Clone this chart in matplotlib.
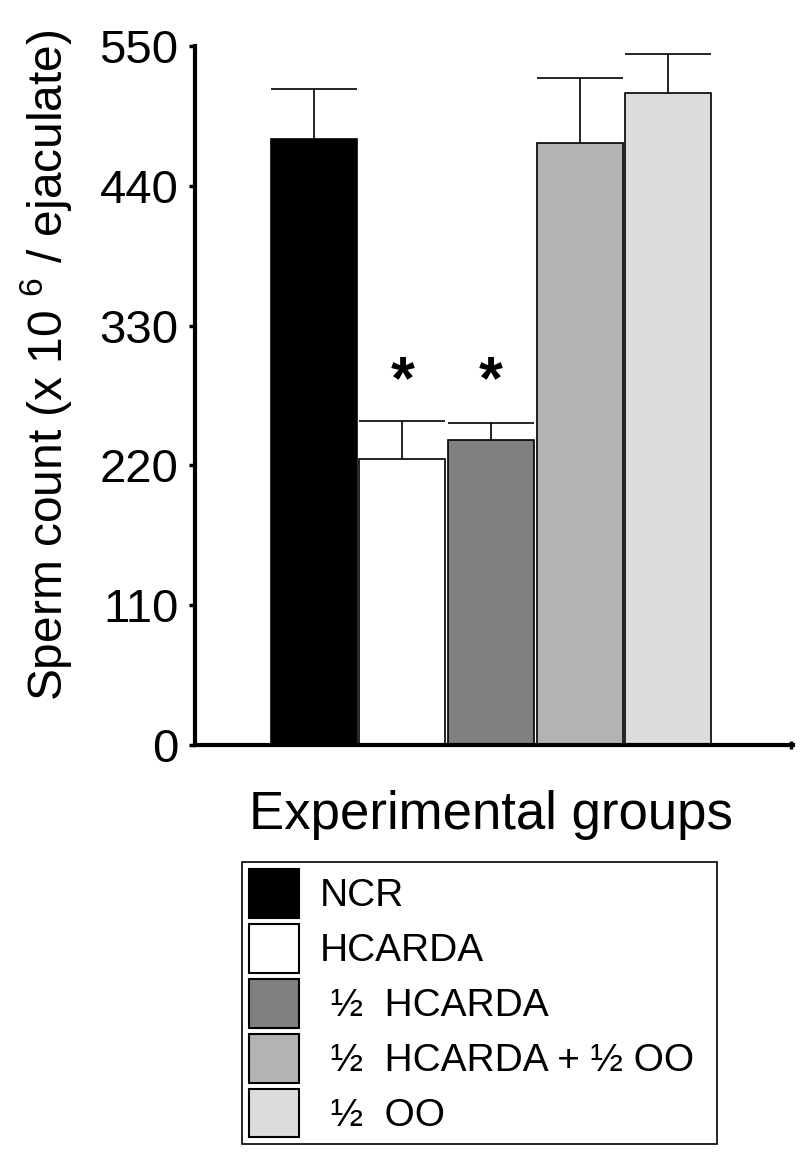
import numpy as np
import matplotlib
matplotlib.use("Agg")
import matplotlib.pyplot as plt
from matplotlib.patches import Patch

plt.rcParams['font.family'] = ['Liberation Sans', 'DejaVu Sans']
plt.rcParams['mathtext.fontset'] = 'custom'
plt.rcParams['mathtext.rm'] = 'Liberation Sans'

######### data
groups = ["NCR", "HCARDA", " \u00bd  HCARDA", " \u00bd  HCARDA + \u00bd OO", " \u00bd  OO"]
means = [477, 225, 240, 474, 513]
errs = [39, 30, 13, 51, 31]
colors = ["#000000", "#ffffff", "#808080", "#b3b3b3", "#dcdcdc"]
signif = [False, True, True, False, False]
yticks = [0, 110, 220, 330, 440, 550]

x = np.arange(len(groups))
w = 0.97

fig = plt.figure(figsize=(8, 11.52), dpi=100)
ax = fig.add_axes([0.244, 0.3533, 0.7475, 0.6068])

ax.bar(x, means, width=w, color=colors, edgecolor="black", linewidth=1.2, zorder=2)
top = np.array(means) + np.array(errs)
ax.vlines(x, means, top, color="black", linewidth=1.2, zorder=3)
ax.hlines(top, x - w/2, x + w/2, color="black", linewidth=1.2, zorder=3)

for i in range(len(x)):
    if signif[i]:
        ax.text(x[i], 285, "*", ha="center", va="center", fontsize=44, fontweight="bold")

ax.set_xlim(-1.337, 5.41)
ax.set_ylim(0, 550)
ax.set_yticks(yticks)
ax.set_yticklabels([str(t) for t in yticks], fontsize=34)
ax.tick_params(axis="y", direction="out", length=4, width=2.5, pad=8)
ax.set_xticks([5.38])
ax.set_xticklabels([""])
ax.tick_params(axis="x", direction="inout", length=6, width=2.5)
for s in ["top", "right"]:
    ax.spines[s].set_visible(False)
for s in ["left", "bottom"]:
    ax.spines[s].set_linewidth(3)

fig.text(46/800, 1 - 365/1152, "Sperm count (x 10 $^{6}$ / ejaculate)", rotation=90,
         ha="center", va="center", fontsize=34.5)
fig.text(491/800, 1 - 815/1152, "Experimental groups", ha="center", va="center", fontsize=38)

handles = [Patch(facecolor=c, edgecolor="black", linewidth=1.5) for c in colors]
leg = fig.legend(handles, groups, loc="upper left",
                 bbox_to_anchor=(242/800, 1 - 862/1152, 475/800, 0), mode="expand",
                 fontsize=28, handlelength=1.28, handleheight=1.55, labelspacing=0.16,
                 handletextpad=0.55, borderpad=0.18, borderaxespad=0, fancybox=False,
                 framealpha=1, edgecolor="black")
leg.get_frame().set_linewidth(1.2)

plt.savefig("out.png", dpi=100)
